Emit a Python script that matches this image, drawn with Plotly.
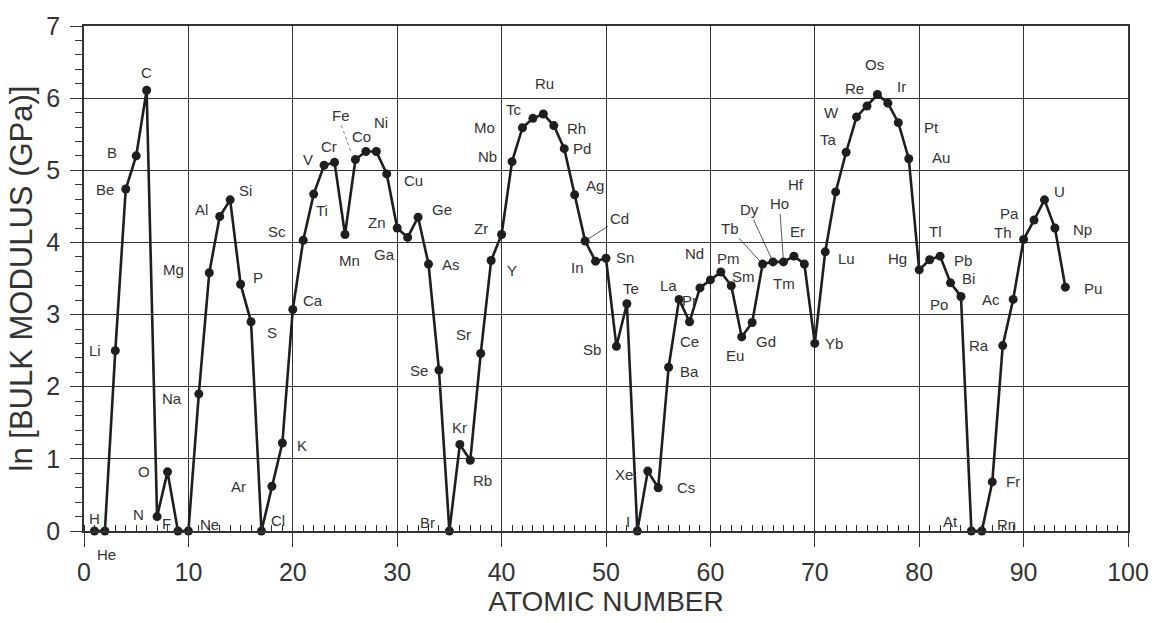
import plotly.graph_objects as go

# Elements 1..94 and ln of their bulk modulus (GPa)
atomic_number = list(range(1, 95))
symbols = [
    "H", "He", "Li", "Be", "B", "C", "N", "O", "F", "Ne",
    "Na", "Mg", "Al", "Si", "P", "S", "Cl", "Ar", "K", "Ca",
    "Sc", "Ti", "V", "Cr", "Mn", "Fe", "Co", "Ni", "Cu", "Zn",
    "Ga", "Ge", "As", "Se", "Br", "Kr", "Rb", "Sr", "Y", "Zr",
    "Nb", "Mo", "Tc", "Ru", "Rh", "Pd", "Ag", "Cd", "In", "Sn",
    "Sb", "Te", "I", "Xe", "Cs", "Ba", "La", "Ce", "Pr", "Nd",
    "Pm", "Sm", "Eu", "Gd", "Tb", "Dy", "Ho", "Er", "Tm", "Yb",
    "Lu", "Hf", "Ta", "W", "Re", "Os", "Ir", "Pt", "Au", "Hg",
    "Tl", "Pb", "Bi", "Po", "At", "Rn", "Fr", "Ra", "Ac", "Th",
    "Pa", "U", "Np", "Pu",
]
ln_bulk_modulus = [
    0.00, 0.00, 2.50, 4.74, 5.20, 6.11, 0.20, 0.82, 0.00, 0.00,
    1.90, 3.58, 4.36, 4.59, 3.42, 2.90, 0.00, 0.62, 1.22, 3.07,
    4.03, 4.67, 5.07, 5.11, 4.11, 5.15, 5.26, 5.26, 4.95, 4.20,
    4.07, 4.35, 3.70, 2.23, 0.00, 1.20, 0.98, 2.46, 3.75, 4.11,
    5.12, 5.59, 5.72, 5.78, 5.62, 5.30, 4.66, 4.02, 3.74, 3.78,
    2.56, 3.15, 0.00, 0.83, 0.60, 2.27, 3.21, 2.90, 3.37, 3.48,
    3.59, 3.40, 2.69, 2.89, 3.70, 3.73, 3.73, 3.81, 3.70, 2.60,
    3.87, 4.70, 5.25, 5.74, 5.89, 6.05, 5.93, 5.66, 5.16, 3.62,
    3.76, 3.81, 3.44, 3.25, 0.00, 0.00, 0.68, 2.57, 3.21, 4.04,
    4.31, 4.59, 4.20, 3.38,
]
x_ticks = [0, 10, 20, 30, 40, 50, 60, 70, 80, 90, 100]
y_ticks = [0, 1, 2, 3, 4, 5, 6, 7]

# Pixel offsets of each symbol label from its point (right, down)
label_offsets = {
    "H": (0, -13), "He": (2, 23), "Li": (-20, 0), "Be": (-21, 0), "B": (-24, -3),
    "C": (0, -18), "N": (-19, -2), "O": (-24, 0), "F": (-11, -8), "Ne": (21, -7),
    "Na": (-27, 5), "Mg": (-36, -3), "Al": (-18, -7), "Si": (15, -9), "P": (17, -7),
    "S": (21, 11), "Cl": (17, -11), "Ar": (-33, 0), "K": (20, 3), "Ca": (20, -9),
    "Sc": (-26, -9), "Ti": (8, 16), "V": (-16, -6), "Cr": (-6, -16), "Mn": (4, 26),
    "Fe": (-14, -44), "Co": (-4, -15), "Ni": (5, -29), "Cu": (27, 7), "Zn": (-20, -6),
    "Ga": (-23, 17), "Ge": (24, -8), "As": (22, 0), "Se": (-20, 0), "Br": (-22, -9),
    "Kr": (0, -17), "Rb": (12, 20), "Sr": (-17, -19), "Y": (21, 10), "Zr": (-21, -6),
    "Nb": (-25, -5), "Mo": (-38, 0), "Tc": (-19, -9), "Ru": (1, -31), "Rh": (23, 3),
    "Pd": (18, 0), "Ag": (20, -9), "In": (-18, 6), "Sn": (19, -1),
    "Sb": (-24, 3), "Te": (4, -15), "I": (-9, -10), "Xe": (-24, 3), "Cs": (28, 0),
    "Ba": (21, 4), "La": (-11, -14), "Ce": (0, 20), "Pr": (-10, 13), "Nd": (-16, -26),
    "Pm": (8, -14), "Sm": (12, -9), "Eu": (-7, 19), "Gd": (14, 19),
    "Er": (4, -25), "Tm": (-20, 19), "Yb": (19, 0), "Lu": (21, 7), "Hf": (-40, -7),
    "Ta": (-18, -13), "W": (-25, -4), "Re": (-13, -18), "Os": (-3, -30), "Ir": (14, -17),
    "Pt": (33, 5), "Au": (32, -1), "Hg": (-22, -11), "Tl": (6, -28), "Pb": (23, 4),
    "Bi": (18, -4), "Po": (-22, 8), "At": (-21, -10), "Rn": (25, -7), "Fr": (21, 0),
    "Ra": (-24, 0), "Ac": (-22, 0), "Th": (-21, -7), "Pa": (-25, -7), "U": (15, -8),
    "Np": (28, 1), "Pu": (28, 1),
}
# Labels joined to their point by a thin leader line
leader_offsets = {"Cd": (34, -22), "Tb": (-33, -36), "Dy": (-24, -52), "Ho": (-4, -58)}

INK = "#1e1e1e"
GRID = "#333333"
LABEL = "#333333"
FONT = "Liberation Sans, Arial, sans-serif"

fig = go.Figure()
fig.add_trace(go.Scatter(
    x=atomic_number, y=ln_bulk_modulus, mode="lines+markers",
    line=dict(color=INK, width=2.6),
    marker=dict(color=INK, size=9),
    cliponaxis=False, hoverinfo="skip", showlegend=False,
))

annotations = []
for z, sym, val in zip(atomic_number, symbols, ln_bulk_modulus):
    if sym in leader_offsets:
        ax, ay = leader_offsets[sym]
        annotations.append(dict(
            x=z, y=val, xref="x", yref="y", text=sym, showarrow=True,
            ax=ax, ay=ay, arrowhead=0, arrowwidth=0.9, arrowcolor="#444",
            standoff=4, font=dict(family=FONT, size=15, color=LABEL),
        ))
    else:
        dx, dy = label_offsets[sym]
        annotations.append(dict(
            x=z, y=val, xref="x", yref="y", text=sym, showarrow=False,
            xshift=dx, yshift=-dy, font=dict(family=FONT, size=15, color=LABEL),
        ))

# Dotted leader from the Fe label down to its point
fe_idx = symbols.index("Fe")
shapes = [dict(
    type="line", xref="x", yref="y", xsizemode="pixel", ysizemode="pixel",
    xanchor=atomic_number[fe_idx], yanchor=ln_bulk_modulus[fe_idx],
    x0=-14, y0=34, x1=-4, y1=6,
    line=dict(color="#777", width=1, dash="dot"),
)]

fig.update_layout(
    width=1162, height=623,
    margin=dict(l=84, r=34, t=22, b=92),
    paper_bgcolor="white", plot_bgcolor="white",
    font=dict(family=FONT, color=LABEL),
    annotations=annotations, shapes=shapes,
    xaxis=dict(
        range=[0, 100], tickvals=x_ticks, ticktext=[str(v) for v in x_ticks],
        showgrid=True, gridcolor=GRID, gridwidth=1.4,
        showline=True, linecolor=GRID, linewidth=1.8, mirror=True,
        ticks="outside", ticklen=14, tickwidth=1.4, tickcolor=GRID,
        minor=dict(dtick=1, ticks="inside", ticklen=6, tickwidth=1.1, tickcolor=GRID, showgrid=False),
        tickfont=dict(family=FONT, size=25, color=LABEL), ticklabelstandoff=4,
        zeroline=False,
        title=dict(text="ATOMIC NUMBER", font=dict(family=FONT, size=28, color=LABEL), standoff=4),
    ),
    yaxis=dict(
        range=[0, 7], tickvals=y_ticks, ticktext=[str(v) for v in y_ticks],
        showgrid=True, gridcolor=GRID, gridwidth=1.4,
        showline=True, linecolor=GRID, linewidth=1.8, mirror=True,
        ticks="outside", ticklen=12, tickwidth=1.4, tickcolor=GRID,
        minor=dict(dtick=0.2, ticks="outside", ticklen=7, tickwidth=1.1, tickcolor=GRID, showgrid=False),
        tickfont=dict(family=FONT, size=25, color=LABEL), ticklabelstandoff=5,
        zeroline=False,
        title=dict(text="ln [BULK MODULUS (GPa)]", font=dict(family=FONT, size=31, color=LABEL), standoff=4),
    ),
)

fig.write_html("out.html")
